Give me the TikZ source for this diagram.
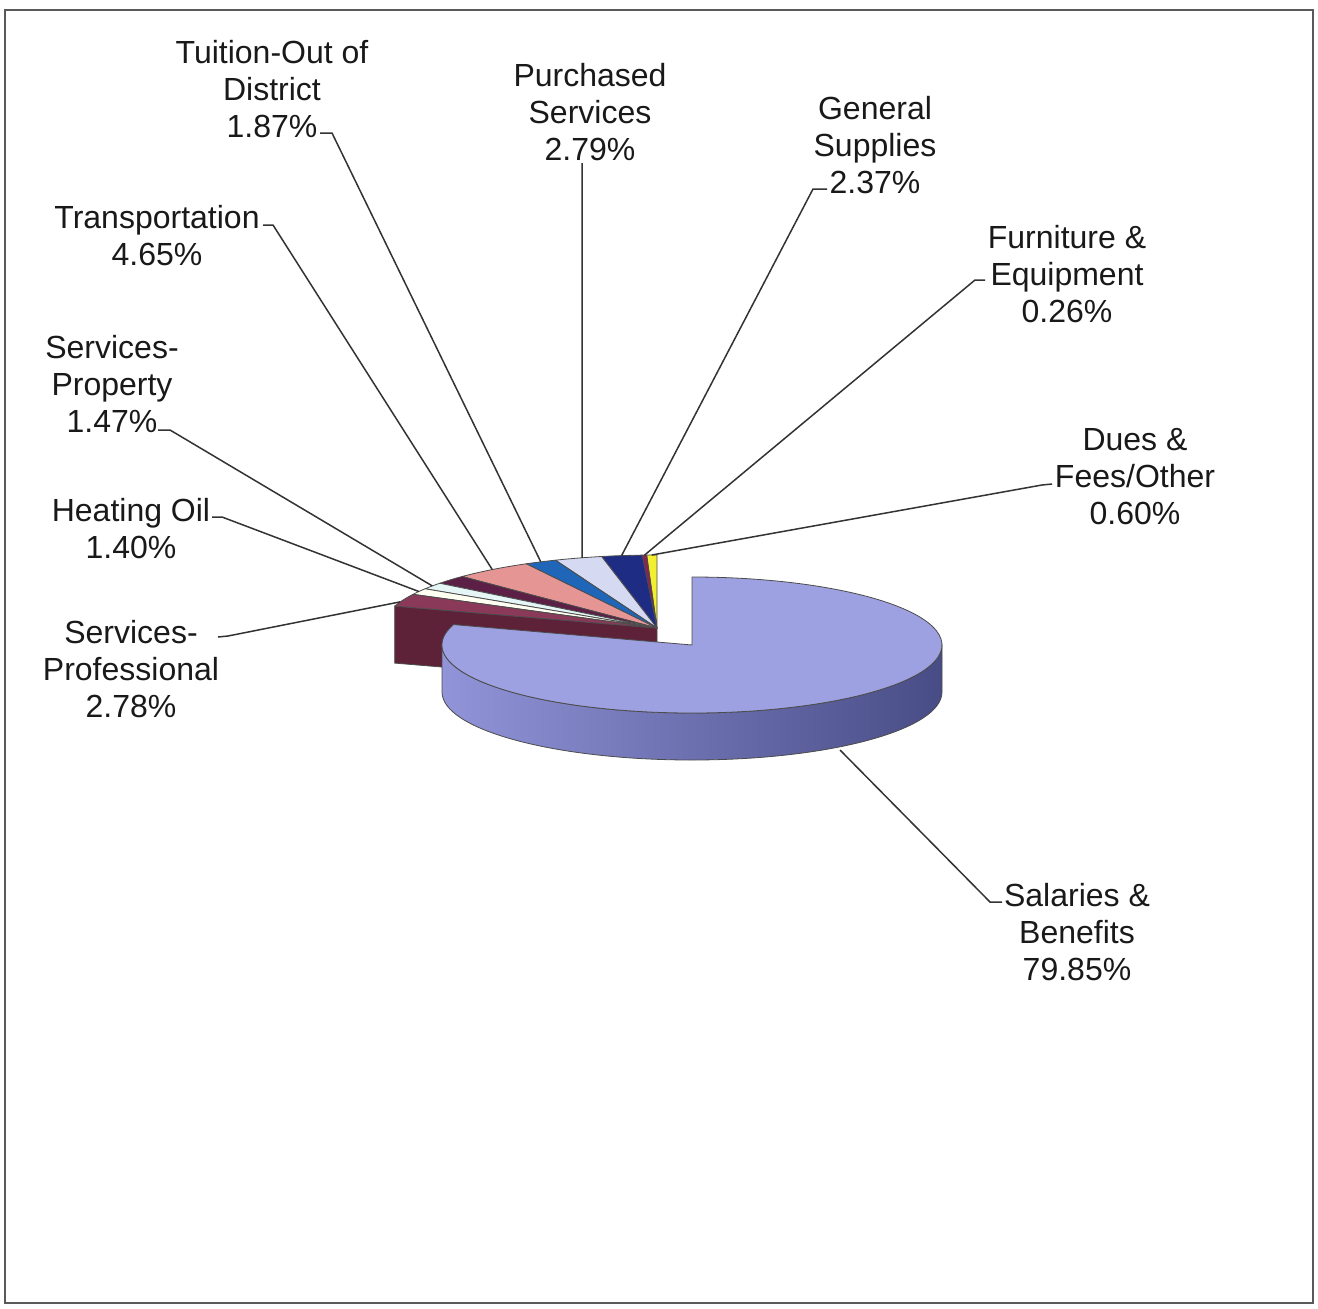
\documentclass[tikz,border=0pt]{standalone}
\usepackage{fontspec}
\setmainfont{Liberation Sans}
\usepackage{tikz}

\definecolor{salTop}{HTML}{9EA1E1}
\definecolor{salSideL}{HTML}{9194D8}
\definecolor{salSideR}{HTML}{484C86}
\definecolor{profTop}{HTML}{8A3A58}
\definecolor{profFace}{HTML}{5E2238}
\definecolor{heatTop}{HTML}{FFFFF2}
\definecolor{propTop}{HTML}{E6F6F6}
\definecolor{otherTop}{HTML}{5C1F45}
\definecolor{transTop}{HTML}{E69595}
\definecolor{tuitTop}{HTML}{1F66B8}
\definecolor{purchTop}{HTML}{D5D9F2}
\definecolor{genTop}{HTML}{1E2C84}
\definecolor{furnTop}{HTML}{8B2252}
\definecolor{duesTop}{HTML}{F2EE30}

\newcommand\lblfont{\fontsize{32}{37}\selectfont}

\tikzset{
  lbl/.style={font=\lblfont, align=center, inner sep=0pt, text=black!90},
  leader/.style={draw=black!80, line width=1.5pt},
  slice/.style={draw=black!70, line width=0.8pt, line join=round},
}

\begin{document}
\begin{tikzpicture}[x=1pt,y=1pt]
  \useasboundingbox (0,0) rectangle (1318,-1309);
  \draw[black!65, line width=2pt] (5,-10) rectangle (1313,-1303);

  % small slices (not exploded)
  \begin{scope}[shift={(657,-628)}]
    \path[slice, fill=profFace] (0,0) -- (162.54:275 and 73) -- ++(0,-57) -- (0,-57) -- cycle;
    \path[slice, fill=duesTop]  (0,0) -- (90:275 and 73)     arc[start angle=90,     end angle=92.16,  x radius=275, y radius=73] -- cycle;
    \path[slice, fill=furnTop]  (0,0) -- (92.16:275 and 73)  arc[start angle=92.16,  end angle=93.10,  x radius=275, y radius=73] -- cycle;
    \path[slice, fill=genTop]   (0,0) -- (93.10:275 and 73)  arc[start angle=93.10,  end angle=101.63, x radius=275, y radius=73] -- cycle;
    \path[slice, fill=purchTop] (0,0) -- (101.63:275 and 73) arc[start angle=101.63, end angle=111.67, x radius=275, y radius=73] -- cycle;
    \path[slice, fill=tuitTop]  (0,0) -- (111.67:275 and 73) arc[start angle=111.67, end angle=118.40, x radius=275, y radius=73] -- cycle;
    \path[slice, fill=transTop] (0,0) -- (118.40:275 and 73) arc[start angle=118.40, end angle=135.14, x radius=275, y radius=73] -- cycle;
    \path[slice, fill=otherTop] (0,0) -- (135.14:275 and 73) arc[start angle=135.14, end angle=142.20, x radius=275, y radius=73] -- cycle;
    \path[slice, fill=propTop]  (0,0) -- (142.20:275 and 73) arc[start angle=142.20, end angle=147.49, x radius=275, y radius=73] -- cycle;
    \path[slice, fill=heatTop]  (0,0) -- (147.49:275 and 73) arc[start angle=147.49, end angle=152.53, x radius=275, y radius=73] -- cycle;
    \path[slice, fill=profTop]  (0,0) -- (152.53:275 and 73) arc[start angle=152.53, end angle=162.54, x radius=275, y radius=73] -- cycle;

    \coordinate (p-dues)  at (91.1:275 and 73);
    \coordinate (p-furn)  at (92.6:275 and 73);
    \coordinate (p-gen)   at (97.4:275 and 73);
    \coordinate (p-purch) at (105.8:275 and 73);
    \coordinate (p-tuit)  at (115:275 and 73);
    \coordinate (p-trans) at (126.8:275 and 73);
    \coordinate (p-prop)  at (144.8:275 and 73);
    \coordinate (p-heat)  at (150:275 and 73);
    \coordinate (p-prof)  at (159:275 and 73);
  \end{scope}

  % salaries slice (exploded)
  \begin{scope}[shift={(692,-645)}]
    \path[slice, left color=salSideL, right color=salSideR]
      (180:250 and 68) arc[start angle=180, end angle=360, x radius=250, y radius=68]
      -- ++(0,-47) arc[start angle=360, end angle=180, x radius=250, y radius=68] -- cycle;
    \path[slice, fill=salTop] (0,0) -- (162.54:250 and 68)
      arc[start angle=162.54, end angle=450, x radius=250, y radius=68] -- cycle;
  \end{scope}
  \coordinate (p-sal) at (840,-750);

  % labels
  \node[lbl] (tuition)   at (272,-89)   {Tuition-Out of\\District\\1.87\%};
  \node[lbl] (purchased) at (590,-112)  {Purchased\\Services\\2.79\%};
  \node[lbl] (general)   at (875,-145)  {General\\Supplies\\2.37\%};
  \node[lbl] (furniture) at (1067,-274) {Furniture \&\\Equipment\\0.26\%};
  \node[lbl] (dues)      at (1135,-477) {Dues \&\\Fees/Other\\0.60\%};
  \node[lbl] (transport) at (157,-236)  {Transportation\\4.65\%};
  \node[lbl] (property)  at (112,-384)  {Services-\\Property\\1.47\%};
  \node[lbl] (heating)   at (131,-529)  {Heating Oil\\1.40\%};
  \node[lbl] (prof)      at (131,-669)  {Services-\\Professional\\2.78\%};
  \node[lbl] (salaries)  at (1077,-932) {Salaries \&\\Benefits\\79.85\%};

  % leader lines
  \coordinate (tuition-a) at (320,-133);  \coordinate (tuition-b) at (332,-133);
  \coordinate (purch-a)   at (582,-163);
  \coordinate (gen-a)     at (827,-189);  \coordinate (gen-b)     at (813,-189);
  \coordinate (furn-a)    at (985,-280);  \coordinate (furn-b)    at (975,-280);
  \coordinate (dues-a)    at (1052,-484); \coordinate (dues-b)    at (1042,-485);
  \coordinate (trans-a)   at (263,-225);  \coordinate (trans-b)   at (273,-225);
  \coordinate (prop-a)    at (158,-430);  \coordinate (prop-b)    at (170,-430);
  \coordinate (heat-a)    at (212,-517);  \coordinate (heat-b)    at (222,-517);
  \coordinate (prof-a)    at (218,-637);  \coordinate (prof-b)    at (228,-636);
  \coordinate (sal-a)     at (1002,-902); \coordinate (sal-b)     at (990,-902);

  \draw[leader] (tuition-a) -- (tuition-b) -- (p-tuit);
  \draw[leader] (purch-a) -- (p-purch);
  \draw[leader] (gen-a) -- (gen-b) -- (p-gen);
  \draw[leader] (furn-a) -- (furn-b) -- (p-furn);
  \draw[leader] (dues-a) -- (dues-b) -- (p-dues);
  \draw[leader] (trans-a) -- (trans-b) -- (p-trans);
  \draw[leader] (prop-a) -- (prop-b) -- (p-prop);
  \draw[leader] (heat-a) -- (heat-b) -- (p-heat);
  \draw[leader] (prof-a) -- (prof-b) -- (p-prof);
  \draw[leader] (sal-a) -- (sal-b) -- (p-sal);
\end{tikzpicture}
\end{document}
